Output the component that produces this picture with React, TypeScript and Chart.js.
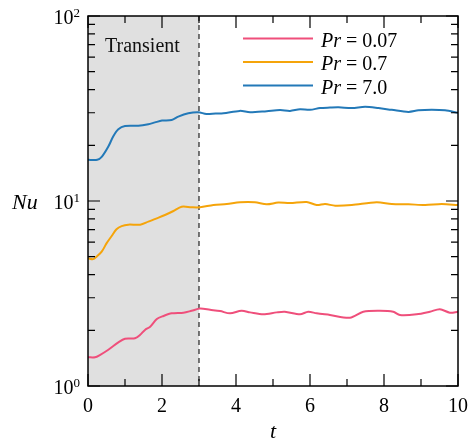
import React, { useEffect, useRef } from "react";
import { Chart, registerables } from "chart.js";
Chart.register(...registerables);

// ---- data ----
const prLabels = ["0.07", "0.7", "7.0"];
const seriesColors = ["#ef4f7b", "#f5a40a", "#2379b8"];

const tPr007 = [0, 0.19, 0.32, 0.55, 0.82, 1.0, 1.27, 1.41, 1.54, 1.68, 1.86, 2.04, 2.26, 2.58, 2.8, 3.03, 3.3, 3.57, 3.84, 4.15, 4.38, 4.74, 5.1, 5.32, 5.73, 5.95, 6.18, 6.54, 7.08, 7.44, 7.89, 8.25, 8.43, 8.88, 9.24, 9.51, 9.78, 10];
const nuPr007 = [1.43, 1.43, 1.47, 1.57, 1.72, 1.8, 1.81, 1.89, 2.01, 2.09, 2.3, 2.39, 2.47, 2.49, 2.55, 2.62, 2.58, 2.54, 2.47, 2.55, 2.5, 2.44, 2.5, 2.52, 2.44, 2.52, 2.47, 2.42, 2.34, 2.52, 2.55, 2.52, 2.42, 2.44, 2.52, 2.6, 2.49, 2.52];

const tPr07 = [0, 0.14, 0.23, 0.37, 0.5, 0.64, 0.77, 0.91, 1.09, 1.41, 1.63, 1.86, 2.08, 2.31, 2.53, 2.8, 3.03, 3.39, 3.75, 4.11, 4.51, 4.83, 5.14, 5.46, 5.91, 6.18, 6.41, 6.68, 7.13, 7.8, 8.21, 8.66, 9.11, 9.56, 10];
const nuPr07 = [4.9, 4.85, 5.0, 5.32, 5.9, 6.47, 7.03, 7.32, 7.45, 7.45, 7.73, 8.06, 8.4, 8.83, 9.31, 9.25, 9.25, 9.51, 9.63, 9.84, 9.84, 9.6, 9.8, 9.74, 9.88, 9.51, 9.63, 9.43, 9.51, 9.84, 9.63, 9.6, 9.51, 9.63, 9.51];

const tPr70 = [0, 0.25, 0.37, 0.55, 0.68, 0.82, 1.0, 1.36, 1.63, 1.81, 2.0, 2.26, 2.44, 2.71, 2.98, 3.2, 3.45, 3.66, 4.1, 4.38, 4.83, 5.19, 5.46, 5.73, 6.0, 6.27, 6.54, 6.77, 7.13, 7.49, 7.85, 8.21, 8.66, 8.93, 9.29, 9.65, 10];
const nuPr70 = [16.7, 16.7, 17.3, 19.7, 22.3, 24.4, 25.4, 25.5, 26.0, 26.6, 27.2, 27.4, 28.6, 29.8, 30.2, 29.5, 29.7, 29.8, 30.7, 30.2, 30.6, 31.0, 30.7, 31.3, 31.1, 31.8, 32.0, 32.1, 31.8, 32.3, 31.8, 31.1, 30.3, 30.9, 31.1, 30.9, 30.0];

const xMajorTicks = [0, 2, 4, 6, 8, 10];
const xMinorTicks = [1, 3, 5, 7, 9];
const xTickLabels = ["0", "2", "4", "6", "8", "10"];
const yDecades = [1, 10, 100];
const yExponents = ["0", "1", "2"];
const yMinorMultipliers = [2, 3, 4, 5, 6, 7, 8, 9];
const transientEnd = 3;
const transientLabel = "Transient";
const xTitle = "t";
const yTitle = "Nu";

const SERIF = "'Liberation Serif', 'Times New Roman', serif";

const framePlugin = {
  id: "framePlugin",
  beforeDatasetsDraw(chart: any) {
    const { ctx, chartArea: a, scales } = chart;
    const xs = scales.x;
    const x3 = xs.getPixelForValue(transientEnd);
    const x0 = xs.getPixelForValue(0);
    ctx.save();
    ctx.fillStyle = "#e0e0e0";
    ctx.fillRect(x0, a.top, x3 - x0, a.bottom - a.top);
    ctx.strokeStyle = "#222";
    ctx.lineWidth = 1.2;
    ctx.setLineDash([5, 4]);
    ctx.beginPath();
    ctx.moveTo(x3, a.top);
    ctx.lineTo(x3, a.bottom);
    ctx.stroke();
    ctx.setLineDash([]);
    ctx.fillStyle = "#111";
    ctx.font = `20px ${SERIF}`;
    ctx.textBaseline = "alphabetic";
    ctx.textAlign = "left";
    ctx.fillText(transientLabel, x0 + 17, a.top + 36);
    ctx.restore();
  },
  afterDatasetsDraw(chart: any) {
    const { ctx, chartArea: a, scales } = chart;
    const xs = scales.x;
    const ys = scales.y;
    ctx.save();
    // frame
    ctx.strokeStyle = "#000";
    ctx.lineWidth = 1.5;
    ctx.strokeRect(a.left, a.top, a.right - a.left, a.bottom - a.top);
    // ticks
    ctx.lineWidth = 1.2;
    const major = 12;
    const minor = 7;
    ctx.beginPath();
    xMajorTicks.forEach((v) => {
      const x = xs.getPixelForValue(v);
      ctx.moveTo(x, a.bottom); ctx.lineTo(x, a.bottom - major);
      ctx.moveTo(x, a.top); ctx.lineTo(x, a.top + major);
    });
    xMinorTicks.forEach((v) => {
      const x = xs.getPixelForValue(v);
      ctx.moveTo(x, a.bottom); ctx.lineTo(x, a.bottom - minor);
      ctx.moveTo(x, a.top); ctx.lineTo(x, a.top + minor);
    });
    yDecades.forEach((d, i) => {
      const y = ys.getPixelForValue(d);
      ctx.moveTo(a.left, y); ctx.lineTo(a.left + major, y);
      ctx.moveTo(a.right, y); ctx.lineTo(a.right - major, y);
      if (i < yDecades.length - 1) {
        yMinorMultipliers.forEach((m) => {
          const ym = ys.getPixelForValue(d * m);
          ctx.moveTo(a.left, ym); ctx.lineTo(a.left + minor, ym);
          ctx.moveTo(a.right, ym); ctx.lineTo(a.right - minor, ym);
        });
      }
    });
    ctx.stroke();
    // x tick labels
    ctx.fillStyle = "#000";
    ctx.font = `20px ${SERIF}`;
    ctx.textAlign = "center";
    ctx.textBaseline = "alphabetic";
    xMajorTicks.forEach((v, i) => {
      ctx.fillText(xTickLabels[i], xs.getPixelForValue(v), a.bottom + 26);
    });
    // y tick labels 10^n
    yDecades.forEach((d, i) => {
      const y = ys.getPixelForValue(d);
      ctx.font = `13px ${SERIF}`;
      ctx.textAlign = "right";
      const expW = ctx.measureText(yExponents[i]).width;
      const right = a.left - 8;
      ctx.fillText(yExponents[i], right, y + 1);
      ctx.font = `20px ${SERIF}`;
      ctx.fillText("10", right - expW, y + 8);
    });
    // axis titles
    ctx.font = `italic 22px ${SERIF}`;
    ctx.textAlign = "center";
    ctx.fillText(xTitle, (a.left + a.right) / 2, a.bottom + 52);
    ctx.textAlign = "left";
    ctx.fillText(yTitle, 12, ys.getPixelForValue(10) + 8);
    // legend
    const lx0 = 243, lx1 = 313, tx = 321;
    const rows = [38.5, 62, 85.5];
    chart.data.datasets.forEach((ds: any, i: number) => {
      const ry = rows[i];
      ctx.strokeStyle = ds.borderColor;
      ctx.lineWidth = 2;
      ctx.beginPath();
      ctx.moveTo(lx0, ry);
      ctx.lineTo(lx1, ry);
      ctx.stroke();
      const [a1, b1] = String(ds.label).split(" = ");
      ctx.fillStyle = "#000";
      ctx.font = `italic 20px ${SERIF}`;
      ctx.textAlign = "left";
      ctx.fillText(a1, tx, ry + 8);
      const w = ctx.measureText(a1).width;
      ctx.font = `20px ${SERIF}`;
      ctx.fillText(" = " + b1, tx + w, ry + 8);
    });
    ctx.restore();
  },
};

function toPoints(t: number[], v: number[]) {
  return t.map((x, i) => ({ x, y: v[i] }));
}

export default function App() {
  const ref = useRef<HTMLCanvasElement>(null);
  useEffect(() => {
    document.body.style.margin = "0";
    const series = [
      toPoints(tPr007, nuPr007),
      toPoints(tPr07, nuPr07),
      toPoints(tPr70, nuPr70),
    ];
    const chart = new Chart(ref.current as HTMLCanvasElement, {
      type: "line",
      data: {
        datasets: series.map((data, i) => ({
          label: `Pr = ${prLabels[i]}`,
          data,
          borderColor: seriesColors[i],
          backgroundColor: seriesColors[i],
          borderWidth: 2,
          pointRadius: 0,
          tension: 0.3,
          fill: false,
        })),
      },
      options: {
        animation: false,
        responsive: false,
        events: [],
        layout: { padding: { left: 88, right: 11, top: 16, bottom: 55 } },
        plugins: { legend: { display: false }, tooltip: { enabled: false } },
        scales: {
          x: { type: "linear", min: 0, max: 10, display: false },
          y: { type: "logarithmic", min: 1, max: 100, display: false },
        },
      },
      plugins: [framePlugin],
    } as any);
    return () => chart.destroy();
  }, []);
  return (
    <div style={{ width: 469, height: 441 }}>
      <canvas ref={ref} width={469} height={441} style={{ display: "block" }} />
    </div>
  );
}
